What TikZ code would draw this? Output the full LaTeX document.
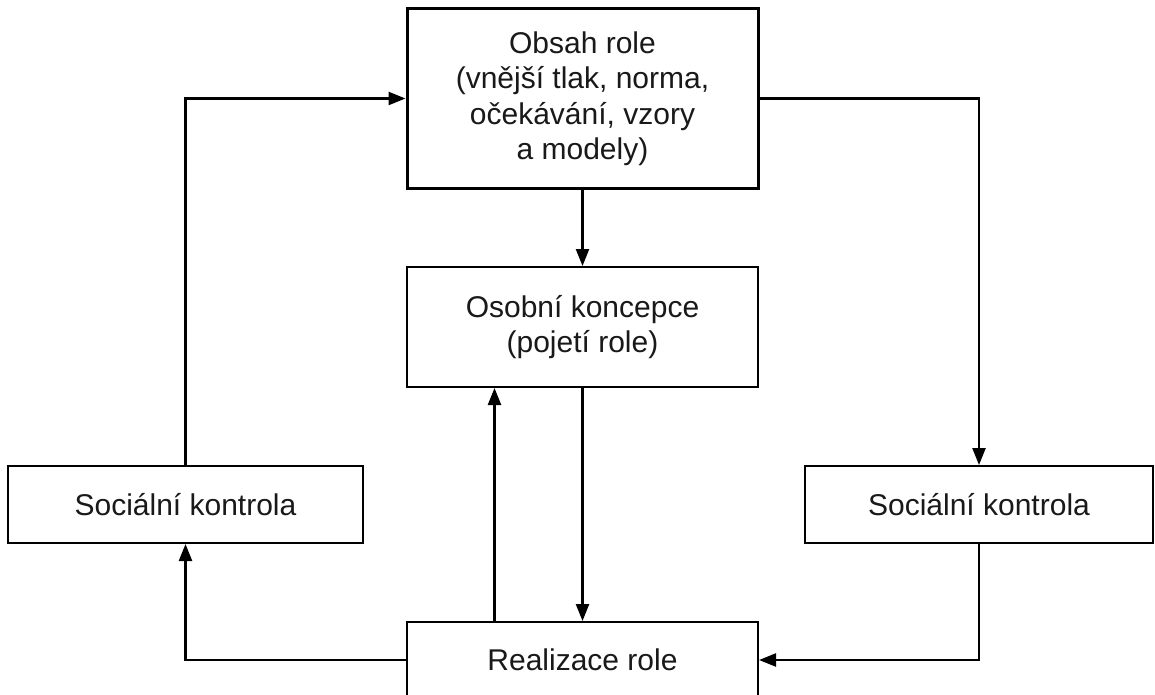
\documentclass[tikz,border=0pt]{standalone}
\usepackage{fontspec}
\setmainfont{Liberation Sans}
\usetikzlibrary{arrows.meta}
\begin{document}
\begin{tikzpicture}[x=1pt,y=-1pt,
  box/.style={draw=black, line width=2pt, fill=white, align=center, inner sep=0pt,
    font=\fontsize{30}{35.5}\selectfont, text=black!90},
  arr/.style={draw=black, line width=2.4pt, -{Triangle[length=17pt,width=13pt]}}]
\useasboundingbox (0,0) rectangle (1155,695);
\node[box, line width=3pt, minimum width=351pt, minimum height=179pt] (top) at (582.5,98.5)
  {Obsah role\\(vnější tlak, norma,\\očekávání, vzory\\a modely)};
\node[box, minimum width=351pt, minimum height=120pt] (mid) at (582.5,327)
  {Osobní koncepce\\(pojetí role)};
\node[box, minimum width=351pt, minimum height=76pt] (bot) at (582.5,660)
  {Realizace role};
\node[box, minimum width=355pt, minimum height=77pt] (ls) at (185.5,504.5)
  {Sociální kontrola};
\node[box, minimum width=348pt, minimum height=77pt] (rs) at (979,504.5)
  {Sociální kontrola};
\draw[arr] (ls.north) |- (top.west);
\draw[arr] (top.east) -| (rs.north);
\draw[arr] (rs.south) |- (bot.east);
\draw[arr] (bot.west) -| (ls.south);
\draw[arr] (top.south) -- (mid.north);
\draw[arr] (mid.south) -- (bot.north);
\draw[arr] ([xshift=-88pt]bot.north) -- ([xshift=-88pt]mid.south);
\end{tikzpicture}
\end{document}
